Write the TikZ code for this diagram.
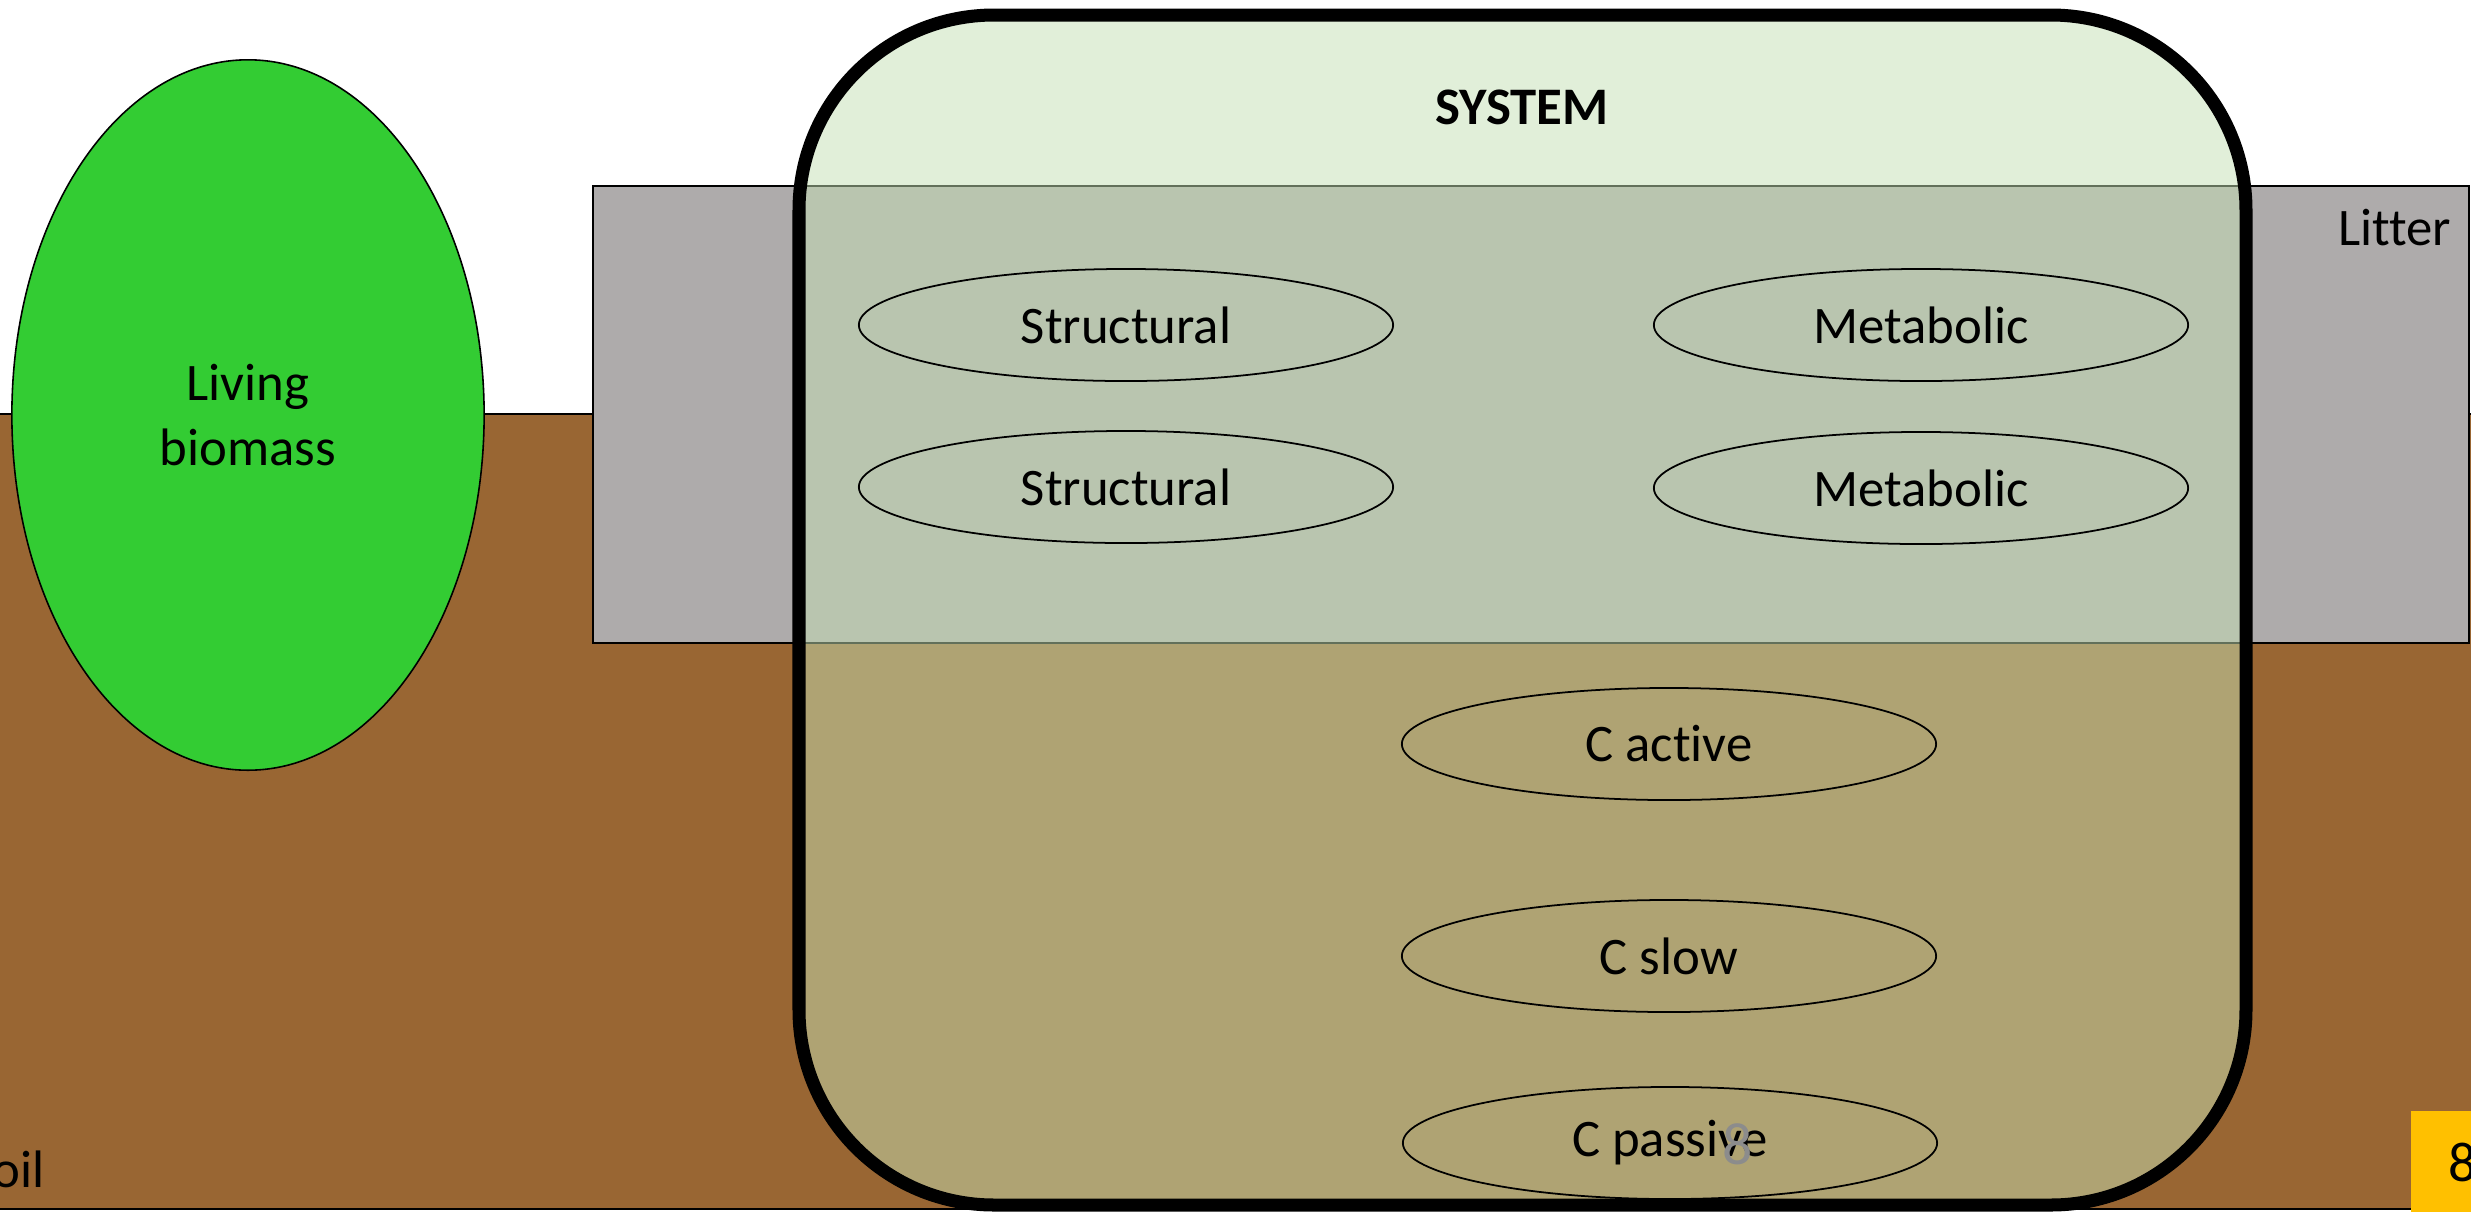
\documentclass[tikz,border=0pt]{standalone}
\usepackage{fontspec}
\setmainfont{Carlito}[Ligatures=NoCommon]
\usetikzlibrary{shapes.geometric}
\definecolor{soilc}{HTML}{996633}
\definecolor{litterc}{HTML}{AEABAB}
\definecolor{biomassc}{HTML}{33CC33}
\definecolor{sysc}{HTML}{C5E0B4}
\definecolor{slidec}{HTML}{FFC000}
\definecolor{numgray}{HTML}{8C8C8C}
\tikzset{
  thinline/.style={draw=black, line width=0.45pt},
  lbl/.style={inner sep=0pt, font=\fontsize{15}{18.5}\selectfont},
  pool/.style={ellipse, draw=black, line width=0.5pt, inner sep=0pt,
    minimum width=5.34cm, minimum height=1.12cm, font=\fontsize{15}{18}\selectfont},
}
\begin{document}
\begin{tikzpicture}[x=0.01cm, y=-0.01cm]
\useasboundingbox (0,0) rectangle (2471,1211);
\fill[white] (0,0) rectangle (2471,1211);
% soil
\path[thinline, fill=soilc] (-10,414) rectangle (2481,1209);
\node[lbl, anchor=base east] (soiltxt) at (45,1187) {Soil};
% litter
\path[thinline, fill=litterc] (593,186) rectangle (2469,643);
\node[lbl, anchor=base east] (littertxt) at (2452,245) {Litter};
% living biomass
\node[ellipse, thinline, fill=biomassc, minimum width=4.72cm, minimum height=7.1cm,
  inner sep=0pt, align=center, font=\fontsize{15}{18.5}\selectfont] (biomass) at (248,415) {Living\\biomass};
% system
\path[draw=black, line width=3.7pt, fill=sysc, fill opacity=0.5, rounded corners=1.95cm]
  (799,15) rectangle (2246,1205);
\node[lbl, font=\bfseries\fontsize{15}{18}\selectfont] (system) at (1522,107) {SYSTEM};
% pools
\node[pool] (s1) at (1126,325) {Structural};
\node[pool] (s2) at (1126,487) {Structural};
\node[pool] (m1) at (1921,325) {Metabolic};
\node[pool] (m2) at (1921,488) {Metabolic};
\node[pool] (ca) at (1669,744) {C active};
\node[pool] (cs) at (1669,956) {C slow};
\node[pool] (cp) at (1670,1143) {C passive};
% slide number placeholder
\node[lbl, text=numgray, font=\fontsize{17}{20}\selectfont] (num1) at (1738,1144) {8};
\fill[slidec] (2411,1111) rectangle (2480,1215);
\node[lbl, anchor=base west, font=\fontsize{16}{19}\selectfont] (num2) at (2448,1181) {8};
\end{tikzpicture}
\end{document}
